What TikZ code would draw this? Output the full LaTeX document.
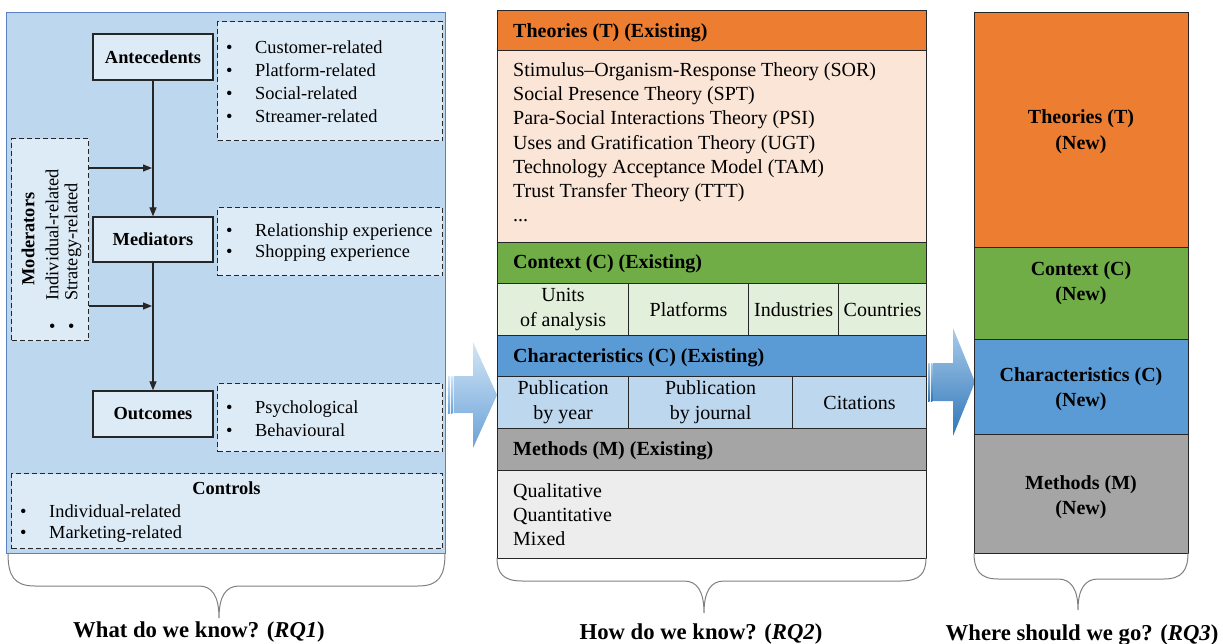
\documentclass[tikz,border=0pt]{standalone}
\usepackage{fontspec}
\setmainfont{Liberation Serif}
\usetikzlibrary{arrows.meta}
\definecolor{panelblue}{HTML}{BDD7EE}
\definecolor{panelline}{HTML}{5B80C0}
\definecolor{boxblue}{HTML}{DDEBF7}
\definecolor{orangeT}{HTML}{ED7D31}
\definecolor{peach}{HTML}{FBE5D6}
\definecolor{greenC}{HTML}{70AD47}
\definecolor{lgreen}{HTML}{E2EFDA}
\definecolor{blueC}{HTML}{5B9BD5}
\definecolor{lblue}{HTML}{BDD7EE}
\definecolor{greyM}{HTML}{A5A5A5}
\definecolor{lgrey}{HTML}{EDEDED}
\definecolor{edge}{HTML}{262626}
\definecolor{bracegrey}{HTML}{7F7F7F}
\definecolor{arrTopA}{HTML}{D3E5F5}
\definecolor{arrBotA}{HTML}{6AA2D8}
\definecolor{arrTopB}{HTML}{A9CBEA}
\definecolor{arrBotB}{HTML}{2F77B9}
\newcommand\myBullet{\makebox[29pt][l]{\textbullet}}
\tikzset{
  solidbox/.style={draw=edge, line width=1.3pt, fill=boxblue, minimum width=120pt, minimum height=46pt, inner sep=0pt, font=\bfseries\fontsize{18.4}{22}\selectfont},
  dashbox/.style={draw=edge, line width=1.3pt, dash pattern=on 5pt off 3pt, fill=boxblue, anchor=north west, inner sep=0pt},
  flow/.style={draw=edge, line width=1.2pt, -{Triangle[length=9pt,width=7pt]}},
  listtext/.style={anchor=west, align=left, inner sep=0pt, font=\fontsize{18.4}{23}\selectfont},
  band/.style={draw=edge, line width=1.2pt, anchor=north west, inner sep=0pt, minimum width=429pt},
  cell/.style={draw=edge, line width=1.2pt, anchor=north west, inner sep=0pt, minimum height=52pt, align=center, font=\fontsize{20}{25}\selectfont},
  headtext/.style={anchor=west, inner sep=0pt, font=\bfseries\fontsize{20}{24}\selectfont},
  bodytext/.style={anchor=west, inner sep=0pt, align=left, font=\fontsize{20}{24.2}\selectfont},
  newband/.style={draw=edge, line width=1.2pt, anchor=north west, inner sep=0pt, minimum width=214pt},
  newtext/.style={align=center, inner sep=0pt, font=\bfseries\fontsize{20}{25.5}\selectfont},
  brace/.style={draw=bracegrey, line width=1pt},
  question/.style={inner sep=0pt, font=\bfseries\fontsize{22.7}{27}\selectfont},
}
\begin{document}
\begin{tikzpicture}[x=1pt,y=-1pt]
\useasboundingbox (0,0) rectangle (1223,644);

% ---------------- Left panel (RQ1) ----------------
\node[draw=panelline, line width=1pt, fill=panelblue, anchor=north west, minimum width=439pt, minimum height=541pt, inner sep=0pt] (left) at (6,12) {};

\node[dashbox, minimum width=225pt, minimum height=119pt] (antlist) at (217,21) {};
\node[dashbox, minimum width=225pt, minimum height=68pt] (medlist) at (217,207) {};
\node[dashbox, minimum width=225pt, minimum height=68pt] (outlist) at (217,383) {};
\node[dashbox, minimum width=77pt, minimum height=202pt] (mod) at (11,138) {};
\node[dashbox, minimum width=431pt, minimum height=75pt] (ctrl) at (11,473) {};

\node[solidbox] (ant) at (153,57) {Antecedents};
\node[solidbox, minimum height=45pt] (med) at (153,239.5) {Mediators};
\node[solidbox] (out) at (153,414) {Outcomes};

\node[listtext] (antitems) at (226,81.5) {\myBullet Customer-related\\ \myBullet Platform-related\\ \myBullet Social-related\\ \myBullet Streamer-related};
\node[listtext, font=\fontsize{18.4}{21}\selectfont] (meditems) at (226,243) {\myBullet Relationship experience\\ \myBullet Shopping experience};
\node[listtext] (outitems) at (226,418.5) {\myBullet Psychological\\ \myBullet Behavioural};

\node[inner sep=0pt, font=\bfseries\fontsize{18.4}{22}\selectfont] (ctrltitle) at (226.5,488) {Controls};
\node[listtext, font=\fontsize{18.4}{21}\selectfont] (ctrlitems) at (20,524) {\myBullet Individual-related\\ \myBullet Marketing-related};

\node[rotate=90, inner sep=0pt, font=\bfseries\fontsize{18.4}{22}\selectfont] (modtitle) at (28,239) {Moderators};
\node[rotate=90, anchor=west, inner sep=0pt, font=\fontsize{18.4}{22}\selectfont] (modA) at (52,330) {\myBullet Individual-related};
\node[rotate=90, anchor=west, inner sep=0pt, font=\fontsize{18.4}{22}\selectfont] (modB) at (73,330) {\myBullet Strategy-related};

\draw[flow] (ant) -- (med);
\draw[flow] (med) -- (out);
\coordinate (m1) at (152,168);
\coordinate (m2) at (152,306);
\draw[flow] (mod.east |- m1) -- (m1);
\draw[flow] (mod.east |- m2) -- (m2);

% ---------------- Big arrow 1 ----------------
\shade[top color=arrTopA, bottom color=arrBotA] (448,376) rectangle (449.6,413);
\shade[top color=arrTopA, bottom color=arrBotA] (450.8,376) rectangle (452.4,413);
\shade[top color=arrTopA, bottom color=arrBotA] (453.6,376) -- (473,376) -- (473,342) -- (497,395) -- (473,448) -- (473,413) -- (453.6,413) -- cycle;

% ---------------- Middle panel (RQ2) ----------------
\node[band, fill=orangeT, minimum height=40pt] (th) at (497,10) {};
\node[band, fill=peach, minimum height=192pt] (tb) at (497,50) {};
\node[band, fill=greenC, minimum height=41pt] (ch) at (497,242) {};
\node[cell, fill=lgreen, minimum width=131pt] (c1) at (497,283) {Units\\of analysis};
\node[cell, fill=lgreen, minimum width=120pt] (c2) at (628,283) {Platforms};
\node[cell, fill=lgreen, minimum width=90pt] (c3) at (748,283) {Industries};
\node[cell, fill=lgreen, minimum width=88pt] (c4) at (838,283) {Countries};
\node[band, fill=blueC, minimum height=41pt] (kh) at (497,335) {};
\node[cell, fill=lblue, minimum width=131pt] (k1) at (497,376) {Publication\\by year};
\node[cell, fill=lblue, minimum width=164pt] (k2) at (628,376) {Publication\\by journal};
\node[cell, fill=lblue, minimum width=134pt] (k3) at (792,376) {Citations};
\node[band, fill=greyM, minimum height=42pt] (mh) at (497,428) {};
\node[band, fill=lgrey, minimum height=88pt] (mb) at (497,470) {};

\node[headtext] (tht) at (513,32.5) {Theories (T) (Existing)};
\node[bodytext] (tbt) at (513,142.3) {Stimulus–Organism-Response Theory (SOR)\\ Social Presence Theory (SPT)\\ Para-Social Interactions Theory (PSI)\\ Uses and Gratification Theory (UGT)\\ Technology Acceptance Model (TAM)\\ Trust Transfer Theory (TTT)\\ ...};
\node[headtext] (cht) at (513,263.5) {Context (C) (Existing)};
\node[headtext] (kht) at (513,357.5) {Characteristics (C) (Existing)};
\node[headtext] (mht) at (513,450.5) {Methods (M) (Existing)};
\node[bodytext] (mbt) at (513,514.8) {Qualitative\\ Quantitative\\ Mixed};

% ---------------- Big arrow 2 ----------------
\shade[top color=arrTopB, bottom color=arrBotB] (928,363) rectangle (929.6,401);
\shade[top color=arrTopB, bottom color=arrBotB] (930.8,363) rectangle (932.4,401);
\shade[top color=arrTopB, bottom color=arrBotB] (933.6,363) -- (953,363) -- (953,328) -- (975,382) -- (953,436) -- (953,401) -- (933.6,401) -- cycle;

% ---------------- Right panel (RQ3) ----------------
\node[newband, fill=orangeT, minimum height=235pt] (nt) at (974,12) {};
\node[newband, fill=greenC, minimum height=92pt] (nc) at (974,247) {};
\node[newband, fill=blueC, minimum height=95pt] (nk) at (974,339) {};
\node[newband, fill=greyM, minimum height=119pt] (nm) at (974,434) {};
\node[newtext] (ntt) at (1081,131.5) {Theories (T)\\(New)};
\node[newtext] (nct) at (1081,283) {Context (C)\\(New)};
\node[newtext] (nkt) at (1081,389) {Characteristics (C)\\(New)};
\node[newtext] (nmt) at (1081,497) {Methods (M)\\(New)};

% ---------------- Braces ----------------
\draw[brace] (8,553) .. controls (8,576) and (14,586) .. (35,586) -- (199,586)
  .. controls (212,586) and (219,596) .. (219,618)
  .. controls (219,596) and (226,586) .. (239,586) -- (418,586)
  .. controls (439,586) and (445,576) .. (445,553);
\draw[brace] (497,558) .. controls (497,573) and (503,581) .. (522,581) -- (684,581)
  .. controls (697,581) and (704,591) .. (704,613)
  .. controls (704,591) and (711,581) .. (724,581) -- (901,581)
  .. controls (920,581) and (926,573) .. (926,558);
\draw[brace] (974,553) .. controls (974,570) and (980,579) .. (998,579) -- (1058,579)
  .. controls (1071,579) and (1078,589) .. (1078,610)
  .. controls (1078,589) and (1085,579) .. (1098,579) -- (1164,579)
  .. controls (1182,579) and (1188,570) .. (1188,553);

\node[question] (q1) at (199,631.7) {What do we know? (\textit{RQ1})};
\node[question] (q2) at (701,633.7) {How do we know? (\textit{RQ2})};
\node[question] (q3) at (1082,634.7) {Where should we go? (\textit{RQ3})};
\end{tikzpicture}
\end{document}
